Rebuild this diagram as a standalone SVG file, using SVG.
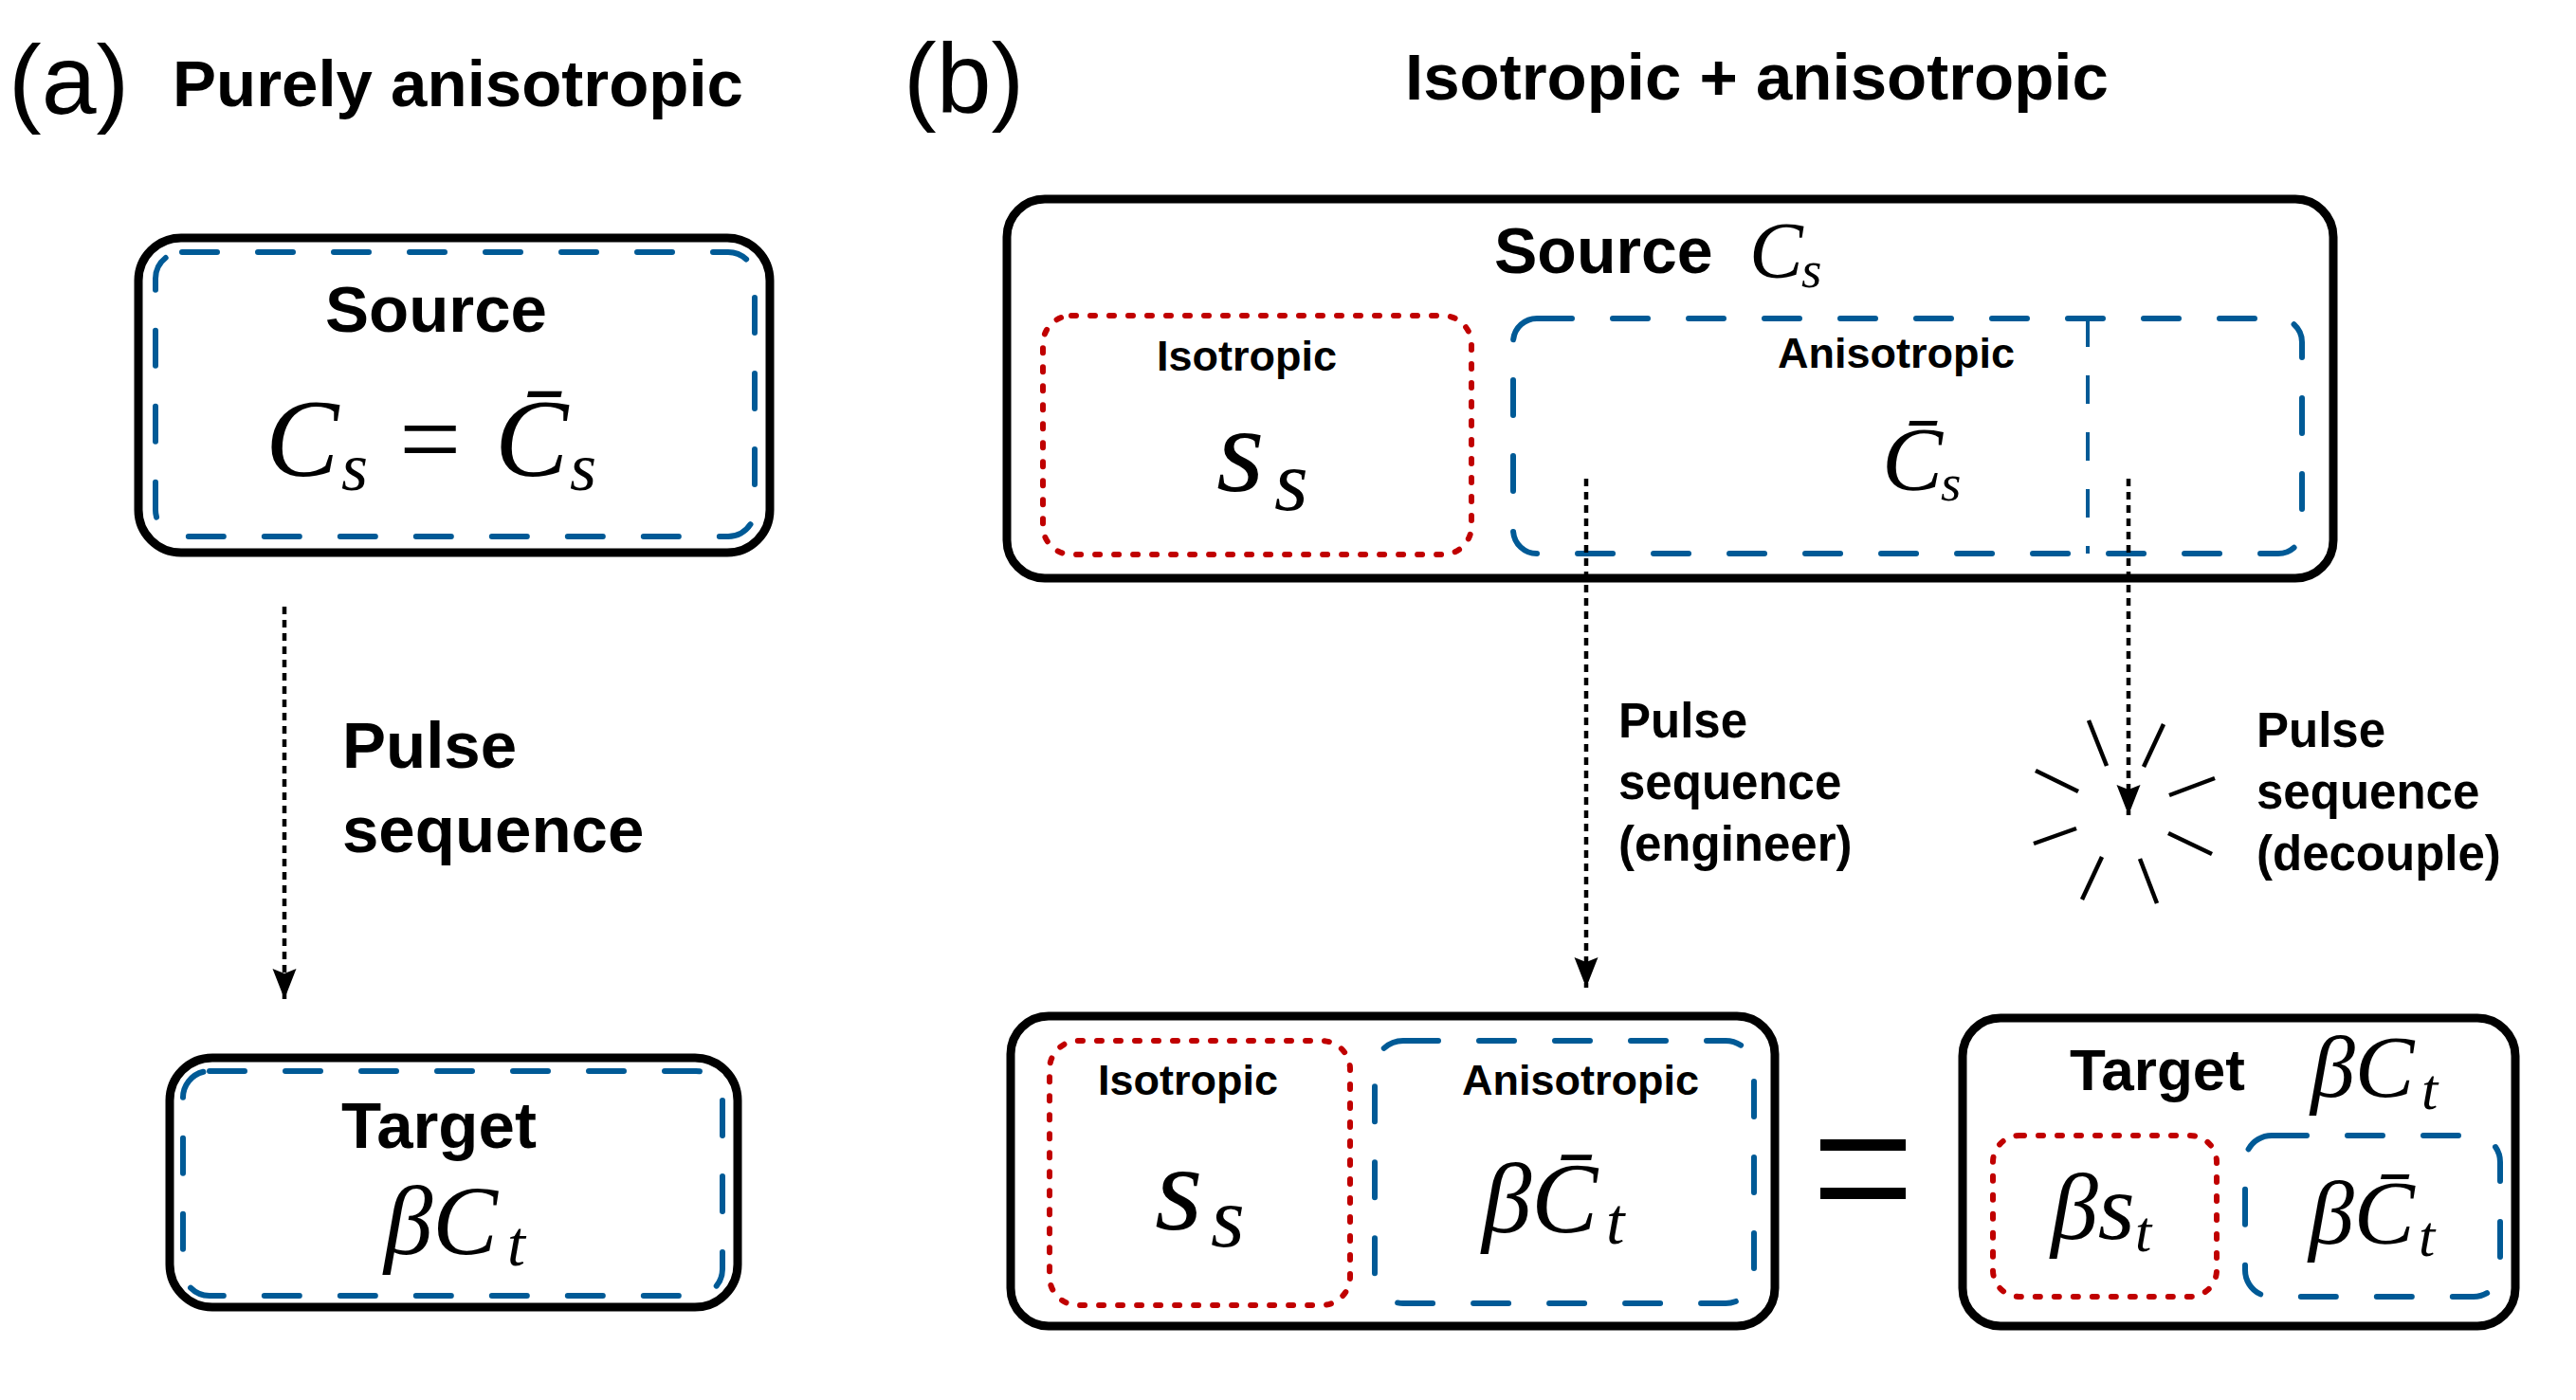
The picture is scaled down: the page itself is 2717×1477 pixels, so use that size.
<svg xmlns="http://www.w3.org/2000/svg" width="2717" height="1477" viewBox="0 0 2717 1477">
<style>
.bg{fill:#ffffff}
.box{fill:none;stroke:#000;stroke-width:9}
.blue{fill:none;stroke:#005a96;stroke-width:6;stroke-linecap:round;stroke-dasharray:37 43}
.red{fill:none;stroke:#c00000;stroke-width:6;stroke-linecap:round;stroke-dasharray:5 15}
.thin{fill:none;stroke:#005a96;stroke-width:4;stroke-dasharray:30 30}
.conn{fill:none;stroke:#000;stroke-width:4.5;stroke-dasharray:8 6}
.ray{stroke:#000;stroke-width:4.5}
.lab{font-family:"Liberation Sans",Arial,sans-serif;font-weight:bold;fill:#000}
.panel{font-family:"Liberation Sans",Arial,sans-serif;fill:#000}
.m{font-family:"Liberation Serif","DejaVu Serif",serif;font-style:italic;fill:#000}
.n{font-style:normal}
</style>
<defs>
<marker id="arrow" markerUnits="userSpaceOnUse" markerWidth="34" markerHeight="28" refX="32" refY="14" orient="auto" viewBox="0 0 34 28">
<path d="M0,1.5 L32,14 L0,26.5 L5,14 Z" fill="#000"/>
</marker>
</defs>
<rect class="bg" x="0" y="0" width="2717" height="1477"/>

<g id="panel-labels">
<text class="panel" x="9" y="120" font-size="104">(a)</text>
<text class="lab" x="182" y="112" font-size="69">Purely anisotropic</text>
<text class="panel" x="953" y="118" font-size="104">(b)</text>
<text class="lab" x="1482" y="105" font-size="69">Isotropic + anisotropic</text>
</g>

<g id="a-source">
<rect class="box" x="146" y="251" width="666" height="332" rx="45"/>
<rect class="blue" x="164" y="266" width="632" height="300" rx="28"/>
<text class="lab" x="460" y="350" font-size="69" text-anchor="middle">Source</text>
<text class="m" font-size="116"><tspan x="280" y="502">C</tspan><tspan x="360" y="517" font-size="72">s</tspan><tspan class="n" x="421" y="502">=</tspan><tspan x="522" y="502">C̄</tspan><tspan x="601" y="517" font-size="72">s</tspan></text>
</g>

<g id="a-target">
<rect class="box" x="179" y="1116" width="599" height="263" rx="45"/>
<rect class="blue" x="193" y="1130" width="569" height="237" rx="28"/>
<text class="lab" x="463" y="1211" font-size="69" text-anchor="middle">Target</text>
<text class="m" font-size="103"><tspan x="405" y="1323">βC</tspan><tspan x="535" y="1335" font-size="68">t</tspan></text>
</g>

<g id="b-source">
<rect class="box" x="1062" y="210" width="1399" height="400" rx="40"/>
<text class="lab" x="1576" y="288" font-size="68">Source</text>
<text class="m" font-size="85"><tspan x="1845" y="293">C</tspan><tspan x="1900" y="303" font-size="55">s</tspan></text>
</g>

<g id="b-source-isotropic">
<rect class="red" x="1100" y="333" width="452" height="252" rx="30"/>
<text class="lab" x="1315" y="391" font-size="45" text-anchor="middle">Isotropic</text>
<text class="m" font-size="130"><tspan x="1283" y="518">s</tspan><tspan x="1344" y="538" font-size="92">s</tspan></text>
</g>

<g id="b-source-anisotropic">
<rect class="blue" x="1596" y="336" width="832" height="248" rx="25"/>
<line class="thin" x1="2202" y1="336" x2="2202" y2="584"/>
<text class="lab" x="2000" y="388" font-size="45" text-anchor="middle">Anisotropic</text>
<text class="m" font-size="96"><tspan x="1985" y="517">C̄</tspan><tspan x="2047" y="528" font-size="55">s</tspan></text>
</g>

<g id="connectors">
<line class="conn" x1="300" y1="640" x2="300" y2="1054" marker-end="url(#arrow)"/>
<line class="conn" x1="1673" y1="505" x2="1673" y2="1042" marker-end="url(#arrow)"/>
<line class="conn" x1="2245" y1="505" x2="2245" y2="860" marker-end="url(#arrow)"/>
</g>

<g id="decouple-burst">
<line class="ray" x1="2203" y1="760" x2="2222" y2="808"/>
<line class="ray" x1="2282" y1="764" x2="2261" y2="809"/>
<line class="ray" x1="2147" y1="813" x2="2192" y2="835"/>
<line class="ray" x1="2336" y1="821" x2="2288" y2="839"/>
<line class="ray" x1="2190" y1="874" x2="2145" y2="890"/>
<line class="ray" x1="2287" y1="879" x2="2333" y2="901"/>
<line class="ray" x1="2217" y1="904" x2="2196" y2="949"/>
<line class="ray" x1="2257" y1="906" x2="2275" y2="953"/>
</g>

<g id="connector-labels">
<text class="lab" x="361" y="810" font-size="69">Pulse</text>
<text class="lab" x="361" y="899" font-size="69">sequence</text>
<text class="lab" x="1707" y="778" font-size="51">Pulse</text>
<text class="lab" x="1707" y="843" font-size="51">sequence</text>
<text class="lab" x="1707" y="908" font-size="51">(engineer)</text>
<text class="lab" x="2380" y="788" font-size="51">Pulse</text>
<text class="lab" x="2380" y="853" font-size="51">sequence</text>
<text class="lab" x="2380" y="918" font-size="51">(decouple)</text>
</g>

<g id="b-engineered">
<rect class="box" x="1066" y="1072" width="806" height="327" rx="40"/>
<rect class="red" x="1107" y="1098" width="317" height="279" rx="30"/>
<text class="lab" x="1253" y="1155" font-size="45" text-anchor="middle">Isotropic</text>
<text class="m" font-size="130"><tspan x="1218" y="1297">s</tspan><tspan x="1277" y="1315" font-size="92">s</tspan></text>
<rect class="blue" x="1450" y="1098" width="400" height="277" rx="30"/>
<text class="lab" x="1667" y="1155" font-size="45" text-anchor="middle">Anisotropic</text>
<text class="m" font-size="105"><tspan x="1563" y="1300">βC̄</tspan><tspan x="1694" y="1312" font-size="70">t</tspan></text>
</g>

<g id="equals">
<rect x="1920" y="1202" width="90" height="12" fill="#000"/>
<rect x="1920" y="1253" width="90" height="12" fill="#000"/>
</g>

<g id="b-target">
<rect class="box" x="2070" y="1074" width="583" height="325" rx="40"/>
<text class="lab" x="2183" y="1150" font-size="62">Target</text>
<text class="m" font-size="94"><tspan x="2437" y="1157">βC</tspan><tspan x="2554" y="1170" font-size="62">t</tspan></text>
<rect class="red" x="2102" y="1198" width="236" height="170" rx="28"/>
<text class="m" font-size="100"><tspan x="2163" y="1307">βs</tspan><tspan x="2252" y="1320" font-size="62">t</tspan></text>
<rect class="blue" x="2368" y="1198" width="269" height="170" rx="28"/>
<text class="m" font-size="96"><tspan x="2435" y="1312">βC̄</tspan><tspan x="2551" y="1325" font-size="62">t</tspan></text>
</g>
</svg>
